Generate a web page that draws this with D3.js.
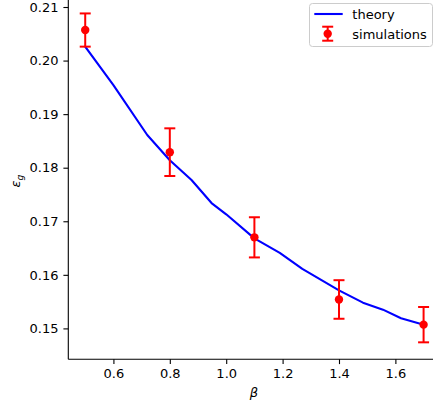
<!DOCTYPE html>
<html>
<head>
<meta charset="utf-8">
<script src="https://cdn.jsdelivr.net/npm/d3@7"></script>
<style>
  html, body { margin: 0; padding: 0; background: #fff; }
  svg { display: block; font-family: "DejaVu Sans", sans-serif; }
</style>
</head>
<body>
<svg id="chart" width="433" height="408"></svg>
<script>
// Theoretical generalisation error curve
const theoryBeta = [0.5, 0.6, 0.72, 0.8, 0.877, 0.948, 1.0, 1.1, 1.19, 1.27, 1.4, 1.485, 1.556, 1.62, 1.7];
const theoryEps  = [0.2026, 0.1954, 0.1861, 0.1814, 0.1777, 0.1734, 0.1713, 0.1668, 0.1641, 0.1611, 0.1571, 0.1548, 0.1535, 0.1519, 0.1507];

// Simulation means with their error bars
const simBeta = [0.5, 0.8, 1.1, 1.4, 1.7];
const simEps  = [0.2057, 0.1829, 0.1670, 0.1554, 0.1507];
const simErr  = [0.0031, 0.00445, 0.00375, 0.0036, 0.0033];

const xTicks = [0.6, 0.8, 1.0, 1.2, 1.4, 1.6];
const yTicks = [0.15, 0.16, 0.17, 0.18, 0.19, 0.20, 0.21];

const svg = d3.select("#chart");
const FONT = 13;

const x = d3.scaleLinear().domain([0.44, 1.76]).range([68.3, 440.5]);
const y = d3.scaleLinear().domain([0.14425, 0.2117]).range([359.2, -2.1]);

// Axes (left and bottom only)
const xAxis = d3.axisBottom(x).tickValues(xTicks).tickFormat(d3.format(".1f"))
  .tickSize(4.9).tickPadding(4.9).tickSizeOuter(0);
const yAxis = d3.axisLeft(y).tickValues(yTicks).tickFormat(d3.format(".2f"))
  .tickSize(4.9).tickPadding(4.9).tickSizeOuter(0);

const gx = svg.append("g").attr("transform", `translate(0,${y.range()[0]})`).call(xAxis);
const gy = svg.append("g").attr("transform", `translate(${x.range()[0]},0)`).call(yAxis);
[gx, gy].forEach(g => {
  g.select(".domain").attr("stroke", "#000").attr("stroke-width", 1.1);
  g.selectAll(".tick line").attr("stroke", "#000").attr("stroke-width", 1.1);
  g.selectAll(".tick text").attr("fill", "#000")
    .style("font-family", "'DejaVu Sans', sans-serif").style("font-size", FONT + "px");
});
gy.select(".domain").attr("d", `M0,${y.range()[0]}V${y.range()[1]}`);
gx.select(".domain").attr("d", `M${x.range()[0]},0H${x.range()[1]}`);

// Axis labels
svg.append("text")
  .attr("x", 254).attr("y", 397)
  .attr("text-anchor", "middle")
  .style("font-size", FONT + "px").style("font-style", "italic")
  .text("β");

const yl = svg.append("text")
  .attr("transform", "translate(20,181) rotate(-90)")
  .attr("text-anchor", "middle")
  .style("font-size", FONT + "px").style("font-style", "italic");
yl.append("tspan").text("ε");
yl.append("tspan").attr("dy", 3).style("font-size", (FONT * 0.7) + "px").text("g");

// Theory line
const line = d3.line().x((d, i) => x(theoryBeta[i])).y(d => y(d));
svg.append("path")
  .datum(theoryEps)
  .attr("d", line)
  .attr("fill", "none")
  .attr("stroke", "#0000ff")
  .attr("stroke-width", 2.1)
  .attr("stroke-linejoin", "round")
  .attr("stroke-linecap", "square");

// Error bars with caps and markers
const cap = 5.5;
const sims = simBeta.map((b, i) => ({ b, e: simEps[i], err: simErr[i] }));
const eb = svg.append("g").attr("stroke", "#ff0000").attr("stroke-width", 2);
sims.forEach(d => {
  const cx = x(d.b), y0 = y(d.e - d.err), y1 = y(d.e + d.err);
  eb.append("line").attr("x1", cx).attr("x2", cx).attr("y1", y0).attr("y2", y1);
  eb.append("line").attr("x1", cx - cap).attr("x2", cx + cap).attr("y1", y0).attr("y2", y0);
  eb.append("line").attr("x1", cx - cap).attr("x2", cx + cap).attr("y1", y1).attr("y2", y1);
});
svg.append("g").selectAll("circle").data(sims).join("circle")
  .attr("cx", d => x(d.b)).attr("cy", d => y(d.e))
  .attr("r", 4.2).attr("fill", "#ff0000");

// Legend
const lg = svg.append("g");
lg.append("rect")
  .attr("x", 309.5).attr("y", 3.5).attr("width", 123).attr("height", 43)
  .attr("rx", 3).attr("fill", "#fff").attr("fill-opacity", 0.8)
  .attr("stroke", "#cccccc").attr("stroke-width", 1);
lg.append("line")
  .attr("x1", 314.3).attr("x2", 342.7).attr("y1", 14).attr("y2", 14)
  .attr("stroke", "#0000ff").attr("stroke-width", 2.1);
lg.append("text").attr("x", 352.3).attr("y", 18.7)
  .style("font-size", FONT + "px").text("theory");
const lgEb = lg.append("g").attr("stroke", "#ff0000").attr("stroke-width", 2);
lgEb.append("line").attr("x1", 327.7).attr("x2", 327.7).attr("y1", 26.7).attr("y2", 40.7);
lgEb.append("line").attr("x1", 327.7 - cap).attr("x2", 327.7 + cap).attr("y1", 26.7).attr("y2", 26.7);
lgEb.append("line").attr("x1", 327.7 - cap).attr("x2", 327.7 + cap).attr("y1", 40.7).attr("y2", 40.7);
lg.append("circle").attr("cx", 327.7).attr("cy", 33.7).attr("r", 4.2).attr("fill", "#ff0000");
lg.append("text").attr("x", 352.3).attr("y", 38.5)
  .style("font-size", FONT + "px").text("simulations");
</script>
</body>
</html>
